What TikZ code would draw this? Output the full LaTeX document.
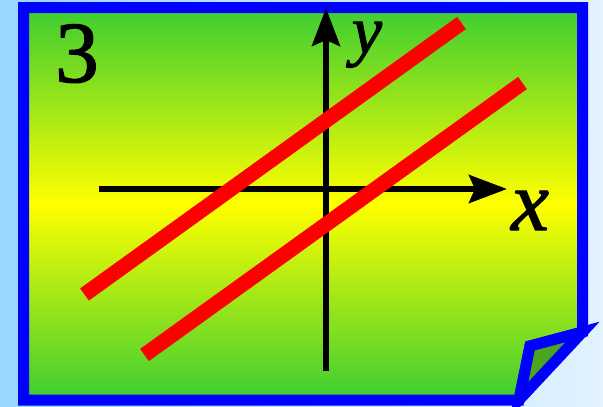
\documentclass[tikz,border=0pt]{standalone}
\usepackage{fontspec}
\setmainfont{Liberation Serif}
\newfontfamily\lblfont[FakeBold=1.5]{Liberation Serif}
\usetikzlibrary{arrows.meta, positioning}
\definecolor{BGl}{RGB}{152,216,255}
\definecolor{BGr}{RGB}{226,242,255}
\definecolor{CB}{RGB}{0,0,255}
\definecolor{CGn}{RGB}{60,205,50}
\definecolor{CY}{RGB}{255,255,0}
\definecolor{DGn}{RGB}{75,165,30}
\definecolor{CR}{RGB}{255,0,0}

\begin{document}
\begin{tikzpicture}[x=1pt, y=-1pt,
  card/.style={draw=CB, line width=11pt, line join=miter},
  axis/.style={line width=6pt, -{Stealth[length=38pt, width=28pt, inset=6pt]}},
  graph/.style={draw=CR, line width=15pt},
  lbl/.style={anchor=base, inner sep=0pt, font=\lblfont#1}
]
% Background
\shade[left color=BGl, right color=BGr] (0,0) rectangle (603,407);
\useasboundingbox (0,0) rectangle (603,407);

% Card with folded corner
\coordinate (fr) at (582.5,332);
\coordinate (fm) at (530,346);
\coordinate (fb) at (519,400);
\shade[top color=CGn, bottom color=CGn, middle color=CY]
  (23.5,7.5) -- (582.5,7.5) -- (fr) -- (fm) -- (fb) -- (23.5,400) -- cycle;
\draw[card] (23.5,7.5) -- (582.5,7.5) -- (fr) -- (fm) -- (fb) -- (23.5,400) -- cycle;
\draw[card, fill=DGn] (fr) -- (fm) -- (fb) -- cycle;

% Axes
\coordinate (xs) at (99,189);
\coordinate (xe) at (507,189);
\coordinate (ys) at (326,371);
\coordinate (ye) at (326,8);
\draw[axis] (xs) -- (xe);
\draw[axis] (ys) -- (ye);

% Parallel lines
\coordinate (a1) at (84.5,294.5);
\coordinate (a2) at (461.5,23);
\coordinate (b1) at (144.5,355);
\coordinate (b2) at (522.5,83);
\draw[graph] (a1) -- (a2);
\draw[graph] (b1) -- (b2);

% Labels
\node[lbl=\fontsize{87}{87}\selectfont] (num) at (77,82) {3};
\node[lbl=\fontsize{85}{85}\selectfont\itshape] (xl) at (530,230) {x};
\node[lbl=\fontsize{68}{68}\selectfont\itshape] (yl) at (367,53) {y};
\end{tikzpicture}
\end{document}
